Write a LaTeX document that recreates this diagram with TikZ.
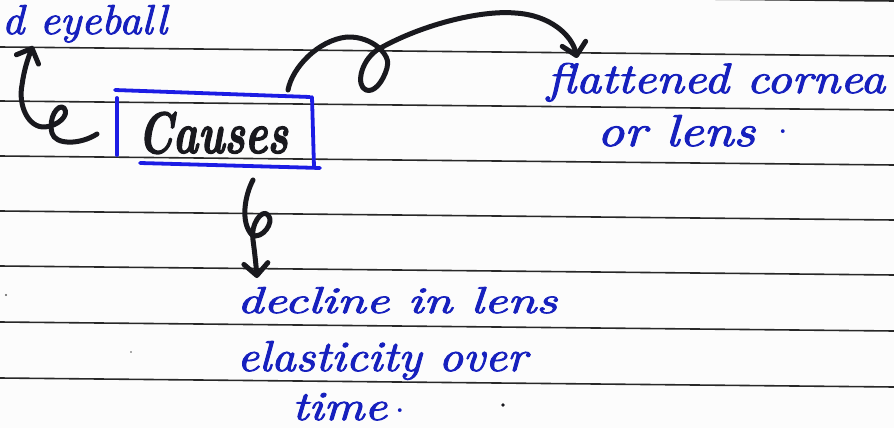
\documentclass[tikz,border=0pt]{standalone}
\usepackage{fontspec}
\usepackage{graphicx}
\usetikzlibrary{arrows.meta}
\newfontfamily\handfont{lmroman10-italic.otf}[FakeBold=2]
\newfontfamily\penfont{lmroman10-bolditalic.otf}[FakeBold=2.5]
\definecolor{ink}{RGB}{22,32,190}
\definecolor{boxblue}{RGB}{28,28,228}
\definecolor{pen}{RGB}{25,25,30}
\definecolor{rulecol}{RGB}{40,40,40}
\definecolor{paper}{RGB}{252,252,252}
\definecolor{speck}{RGB}{90,90,90}
\newcommand{\hw}[3]{\resizebox{#1pt}{#2pt}{\handfont #3}}
\begin{document}
\begin{tikzpicture}[x=1pt,y=-1pt,
  ruled/.style={rulecol, line width=1.6pt},
  inktext/.style={ink, inner sep=0pt, outer sep=0pt, anchor=base west},
  pentext/.style={pen, inner sep=0pt, outer sep=0pt, anchor=base west},
  boxline/.style={boxblue, line width=3.8pt, line cap=round},
  penarrow/.style={pen, line width=5pt, line cap=round, line join=round,
    -{Straight Barb[length=12pt,width=24pt,line cap=round,line join=round]}},
  dotmark/.style={ink, inner sep=0pt, font=\fontsize{46}{46}\selectfont},
]
\fill[paper] (0,0) rectangle (894,428);
\useasboundingbox (0,0) rectangle (894,428);
% ruled lines
\draw[ruled] (0,-8) -- (894,1);
\foreach \a/\b in {47/56,101/110,156/165,211/220,266/275,322/331,378/387}
  \draw[ruled] (0,\a) -- (894,\b);
% stray specks
\fill[speck] (6,295) circle (1.2);
\fill[speck] (131,352) circle (0.9);
\fill[pen] (503,405) circle (1.8);

% texts
\node[inktext] (eye) at (2,34) {\hw{165}{29}{d eyeball}};
\node[inktext] (flat) at (547,93) {\hw{338}{30}{flattened cornea}};
\node[inktext] (orlens) at (597,146) {\hw{158}{31}{or lens}};
\node[dotmark] (dot1) at (783,132) {.};
\node[inktext] (decl) at (237,313) {\hw{320}{26}{decline in lens}};
\node[inktext] (elas) at (237,371) {\hw{290}{30}{elasticity over}};
\node[inktext] (time) at (292,420) {\hw{95}{27}{time}};
\node[dotmark] (dot2) at (400,411) {.};

% Causes box
\node[pentext] (causes) at (138,153) {\resizebox{150pt}{41pt}{\penfont Causes}};
\draw[boxline] (115,90) -- (310,97);
\draw[boxline] (312,97) -- (314,167);
\draw[boxline] (140,163) -- (320,168);
\draw[boxline] (117,98) -- (117,155);

% connectors
\coordinate (s1) at (97,134);
\coordinate (t1) at (33,46);
\coordinate (s2) at (288,90);
\coordinate (t2) at (577,58);
\coordinate (s3) at (253,180);
\coordinate (t3) at (257,278);

\draw[penarrow] (s1) .. controls (80,145) and (55,145) .. (52,133)
  .. controls (48,118) and (58,103) .. (64,108)
  .. controls (70,115) and (58,126) .. (45,127)
  .. controls (28,128) and (18,105) .. (22,85)
  .. controls (24,70) and (28,58) .. (t1);

\draw[penarrow] (s2) .. controls (292,68) and (318,40) .. (347,37)
  .. controls (372,36) and (392,55) .. (387,68)
  .. controls (383,82) and (374,93) .. (366,90)
  .. controls (356,86) and (360,62) .. (377,50)
  .. controls (420,25) and (480,10) .. (515,13)
  .. controls (550,15) and (572,35) .. (t2);

\draw[penarrow] (s3) .. controls (245,195) and (240,222) .. (252,235)
  .. controls (262,240) and (275,222) .. (268,215)
  .. controls (262,208) and (250,225) .. (253,240)
  .. controls (255,255) and (256,265) .. (t3);
\end{tikzpicture}
\end{document}
